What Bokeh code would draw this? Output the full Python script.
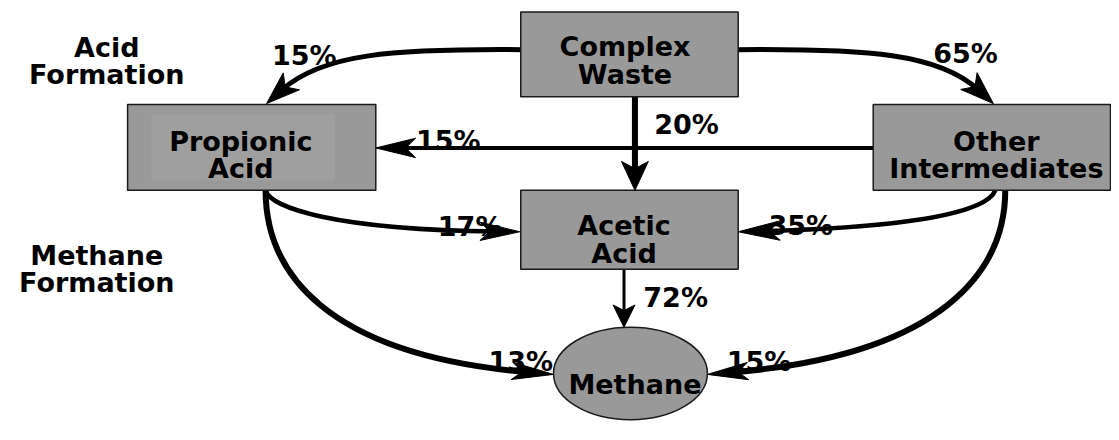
import numpy as np
from bokeh.plotting import figure
from bokeh.models import Range1d
from bokeh.core.properties import value
from bokeh.embed import file_html
from bokeh.resources import INLINE

# ---------------- data ----------------
# process boxes (rectangles)
box_names = ["Complex Waste", "Propionic Acid", "Other Intermediates", "Acetic Acid"]
box_line1 = ["Complex", "Propionic", "Other", "Acetic"]
box_line2 = ["Waste", "Acid", "Intermediates", "Acid"]
# final product (ellipse)
end_name = "Methane"

# flows between the stages (percent of COD)
flow_from = ["Complex Waste", "Complex Waste", "Complex Waste", "Other Intermediates",
             "Propionic Acid", "Other Intermediates", "Acetic Acid",
             "Propionic Acid", "Other Intermediates"]
flow_to = ["Propionic Acid", "Other Intermediates", "Acetic Acid", "Propionic Acid",
           "Acetic Acid", "Acetic Acid", "Methane", "Methane", "Methane"]
flow_pct = [15, 65, 20, 15, 17, 35, 72, 13, 15]

stage_labels = [["Acid", "Formation"], ["Methane", "Formation"]]

# ---------------- layout (reference pixel coords, y down) ----------------
box_left = [524, 128, 879, 524]
box_right = [743, 378, 1118, 743]
box_top = [12, 108, 108, 197]
box_bottom = [100, 197, 197, 279]
box_text_x = [629, 242, 1003, 628]
box_text_y1 = [48, 146, 146, 234]
box_text_y2 = [77, 174, 174, 263]

ell_x, ell_y, ell_w, ell_h = 634.5, 387, 155, 96
ell_text_x, ell_text_y = 639, 398

stage_x = [107, 97]
stage_y1 = [49, 265]
stage_y2 = [77, 293]

# curved flows: cubic bezier (start, ctrl1, ctrl2, tip)
curve_p0 = [(525, 51), (743, 51), (267, 197), (1002, 197), (267, 197), (1012, 197)]
curve_c1 = [(395, 50), (874, 50), (272, 215), (995, 215), (267, 280), (1012, 280)]
curve_c2 = [(309, 69), (960, 69), (360, 238), (920, 235), (350, 370), (925, 370)]
curve_p3 = [(268, 107), (1000, 107), (523, 240), (743, 240), (557, 388), (712, 388)]
curve_lw = [5, 5, 4.5, 4.5, 6, 6]
curve_head = [(34, 12), (34, 12), (40, 9.5), (42, 10), (42, 9), (41, 9)]

# straight flows
line_p0 = [(639, 100), (879, 153), (628, 279)]
line_p1 = [(639, 197), (378, 153), (628, 339)]
line_lw = [6, 4, 3]
line_head = [(30, 13.5), (40, 10), (23, 11)]

# label positions (center x, baseline y) for each flow
pct_x = [306, 972, 691, 451, 473, 806, 680, 524, 764]
pct_y = [57, 55, 129, 145, 235, 233, 308, 375, 375]

FONT = value("DejaVu Sans")
FS = "27px"

p = figure(width=1111, height=424, x_range=Range1d(0, 1119), y_range=Range1d(440, 0),
           output_backend="svg", toolbar_location=None, min_border=0,
           x_axis_location=None, y_axis_location=None)
p.grid.visible = False
p.outline_line_color = None
p.background_fill_color = "white"
p.border_fill_color = "white"


def head_patch(tip, direction, L, W, notch=0.25):
    u = np.array(direction, float)
    u /= np.linalg.norm(u)
    n = np.array([-u[1], u[0]])
    t = np.array(tip, float)
    back = t - u * L
    c1 = back + n * W
    c2 = back - n * W
    nt = t - u * L * (1 - notch)
    pts = [t, c1, nt, c2]
    return [q[0] for q in pts], [q[1] for q in pts]


hx, hy = [], []

# curves
for p0, c1, c2, p3, lw, (L, W) in zip(curve_p0, curve_c1, curve_c2, curve_p3, curve_lw, curve_head):
    d = np.array(p3, float) - np.array(c2, float)
    u = d / np.linalg.norm(d)
    sh = u * L * 0.6
    p.bezier(x0=[p0[0]], y0=[p0[1]], x1=[p3[0] - sh[0]], y1=[p3[1] - sh[1]],
             cx0=[c1[0]], cy0=[c1[1]], cx1=[c2[0] - sh[0]], cy1=[c2[1] - sh[1]],
             line_color="black", line_width=lw, line_cap="round")
    xs, ys = head_patch(p3, d, L, W)
    hx.append(xs); hy.append(ys)

# straight lines
for p0, p1, lw, (L, W) in zip(line_p0, line_p1, line_lw, line_head):
    d = np.array(p1, float) - np.array(p0, float)
    u = d / np.linalg.norm(d)
    sh = u * L * 0.6
    p.segment(x0=[p0[0]], y0=[p0[1]], x1=[p1[0] - sh[0]], y1=[p1[1] - sh[1]],
              line_color="black", line_width=lw)
    xs, ys = head_patch(p1, d, L, W)
    hx.append(xs); hy.append(ys)

# boxes
p.quad(left=box_left, right=box_right, top=box_top, bottom=box_bottom,
       fill_color="#999999", line_color="#1a1a1a", line_width=1.5)
# subtle inner panel in the Propionic Acid box
p.quad(left=[152], right=[337], top=[118], bottom=[187], fill_color="#9f9f9f", line_color=None)

# ellipse
p.ellipse(x=[ell_x], y=[ell_y], width=[ell_w], height=[ell_h],
          fill_color="#999999", line_color="#1a1a1a", line_width=1.5)

# arrow heads on top
p.patches(xs=hx, ys=hy, fill_color="black", line_color="black", line_width=1)

txt = dict(text_font=FONT, text_font_style="bold", text_font_size=FS,
           text_align="center", text_baseline="alphabetic", text_color="black")

p.text(x=box_text_x, y=box_text_y1, text=box_line1, **txt)
p.text(x=box_text_x, y=box_text_y2, text=box_line2, **txt)
p.text(x=[ell_text_x], y=[ell_text_y], text=[end_name], **txt)
p.text(x=stage_x, y=stage_y1, text=[s[0] for s in stage_labels], **txt)
p.text(x=stage_x, y=stage_y2, text=[s[1] for s in stage_labels], **txt)
p.text(x=pct_x, y=pct_y, text=[f"{v}%" for v in flow_pct], **txt)

open("out.html", "w").write(file_html(p, INLINE))
